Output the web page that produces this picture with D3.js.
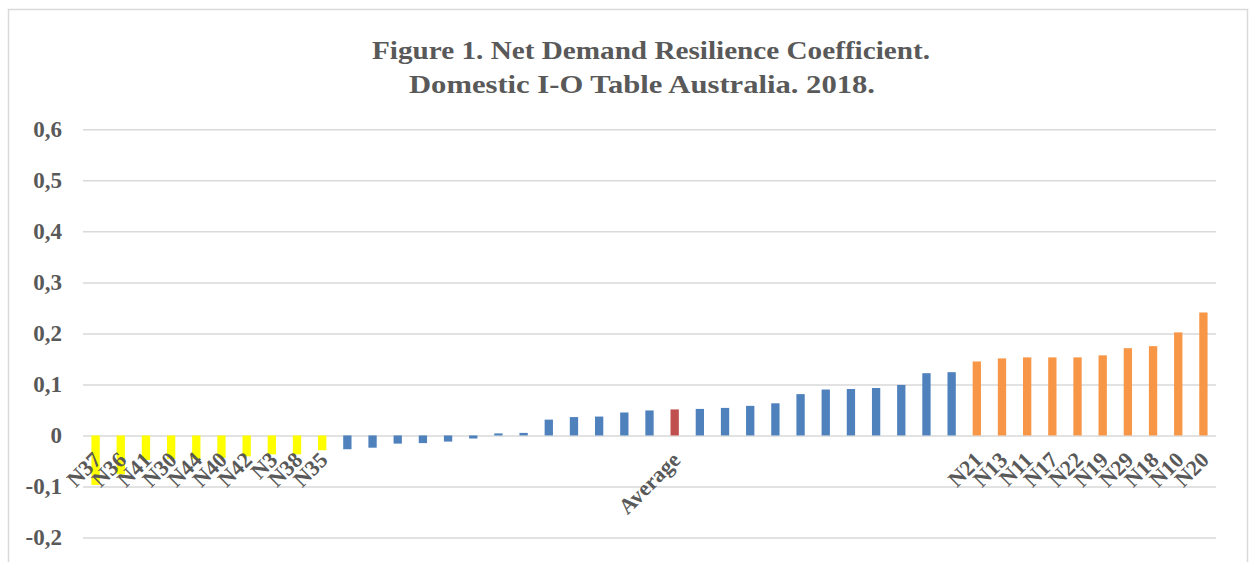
<!DOCTYPE html>
<html>
<head>
<meta charset="utf-8">
<script src="https://cdn.jsdelivr.net/npm/d3@7"></script>
<style>
  body { margin: 0; background: #fff; }
  text { font-family: "Liberation Serif", "Times New Roman", serif; font-weight: bold; fill: #595959; }
</style>
</head>
<body>
<script>
// Sector labels (only some are printed on the chart)
var sectors = ["N37", "N36", "N41", "N30", "N44", "N40", "N42", "N3", "N38", "N35",
  "", "", "", "", "", "", "", "", "", "", "", "", "",
  "Average",
  "", "", "", "", "", "", "", "", "", "", "",
  "N21", "N13", "N11", "N17", "N22", "N19", "N29", "N18", "N10", "N20"];

var coefficients = [-0.097, -0.076, -0.048, -0.046, -0.046, -0.044, -0.041, -0.037, -0.037, -0.029,
  -0.027, -0.024, -0.016, -0.015, -0.012, -0.006, 0.004, 0.005, 0.031, 0.036, 0.037, 0.045, 0.049,
  0.051,
  0.052, 0.054, 0.058, 0.063, 0.081, 0.090, 0.091, 0.093, 0.099, 0.122, 0.124,
  0.145, 0.151, 0.153, 0.153, 0.153, 0.157, 0.171, 0.175, 0.202, 0.241];

// low = bottom ten, high = top ten, avg = the average bar
var groups = ["low", "low", "low", "low", "low", "low", "low", "low", "low", "low",
  "mid", "mid", "mid", "mid", "mid", "mid", "mid", "mid", "mid", "mid", "mid", "mid", "mid",
  "avg",
  "mid", "mid", "mid", "mid", "mid", "mid", "mid", "mid", "mid", "mid", "mid",
  "high", "high", "high", "high", "high", "high", "high", "high", "high", "high"];

var yTicks = [-0.2, -0.1, 0, 0.1, 0.2, 0.3, 0.4, 0.5, 0.6];

var colors = {low: "#ffff00", mid: "#4f81bd", avg: "#c0504d", high: "#f79646"};

var svgWidth = 1250;
var svgHeight = 562;
var plot = {left: 83, right: 1216, top: 129.3, bottom: 537.5};

var svg = d3.select("body")
  .append("svg")
  .attr("width", svgWidth)
  .attr("height", svgHeight);

// chart area border (runs past the bottom of the picture)
svg.append("rect")
  .attr("x", 8.5)
  .attr("y", 9.5)
  .attr("width", 1239)
  .attr("height", 600)
  .attr("fill", "#fff")
  .attr("stroke", "#d9d9d9")
  .attr("stroke-width", 1.5);

// title
var title = svg.append("text")
  .attr("text-anchor", "middle")
  .style("font-size", "25px");
title.append("tspan")
  .attr("x", 651).attr("y", 59)
  .attr("textLength", 558).attr("lengthAdjust", "spacingAndGlyphs")
  .text("Figure 1. Net Demand Resilience Coefficient.");
title.append("tspan")
  .attr("x", 642).attr("y", 93)
  .attr("textLength", 466).attr("lengthAdjust", "spacingAndGlyphs")
  .text("Domestic I-O Table Australia. 2018.");

var xScale = d3.scaleBand()
  .domain(d3.range(sectors.length))
  .range([plot.left, plot.right])
  .paddingInner(0.67)
  .paddingOuter(0.335);

var yScale = d3.scaleLinear()
  .domain([-0.2, 0.6])
  .range([plot.bottom, plot.top]);

var comma = d3.formatLocale({decimal: ",", thousands: ".", grouping: [3], currency: ["", ""], minus: "-"}).format(".1f");

// y axis + gridlines
var leftAxis = d3.axisLeft(yScale)
  .tickValues(yTicks)
  .tickSize(-(plot.right - plot.left))
  .tickPadding(21)
  .tickFormat(d => d === 0 ? "0" : comma(d));

var yAxisGroup = svg.append("g")
  .attr("transform", `translate(${plot.left}, 0)`)
  .call(leftAxis);
yAxisGroup.select(".domain").remove();
yAxisGroup.selectAll("line")
  .attr("stroke", "#d9d9d9")
  .attr("stroke-width", 1.5);
yAxisGroup.selectAll("text")
  .style("font-size", "23px")
  .attr("font-family", null)
  .attr("fill", null);

// bars
svg.append("g")
  .selectAll("rect")
  .data(coefficients)
  .enter()
  .append("rect")
  .attr("x", (d, i) => xScale(i))
  .attr("width", xScale.bandwidth())
  .attr("y", d => yScale(Math.max(0, d)))
  .attr("height", d => Math.abs(yScale(d) - yScale(0)))
  .attr("fill", (d, i) => colors[groups[i]]);

// category labels next to the zero line
var bottomAxis = d3.axisBottom(xScale)
  .tickSize(0)
  .tickFormat(i => sectors[i]);

var xAxisGroup = svg.append("g")
  .attr("transform", `translate(0, ${yScale(0)})`)
  .call(bottomAxis);
xAxisGroup.select(".domain").remove();
xAxisGroup.selectAll("text")
  .style("font-size", "22px")
  .attr("font-family", null)
  .attr("fill", null)
  .attr("text-anchor", "end")
  .attr("x", 0)
  .attr("y", 0)
  .attr("dy", "0.7em")
  .attr("transform", "translate(-4, 15) rotate(-45)");
</script>
</body>
</html>
